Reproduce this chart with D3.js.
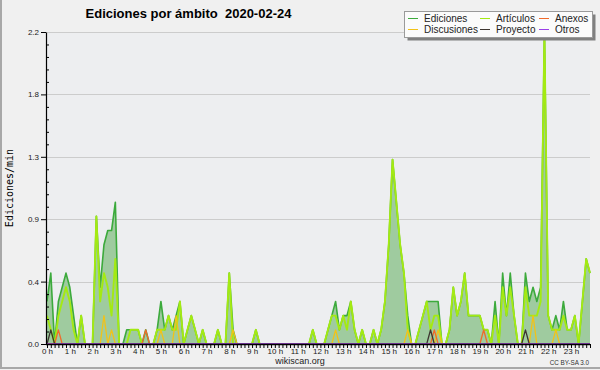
<!DOCTYPE html>
<html>
<head>
<meta charset="utf-8">
<script src="https://cdn.jsdelivr.net/npm/d3@7"></script>
<style>
body { margin: 0; background: #f0f0f0; }
svg { display: block; font-family: "Liberation Sans", Arial, sans-serif; }
</style>
</head>
<body>
<script>
// edits per minute, one value per 10 minutes (144 per day)
var ediciones = [
  0.3,0.5,0,0.3,0.4,0.5,
  0.4,0.2,0,0.2,0,0,
  0,0.9,0.4,0.7,0.8,0.8,
  1.0,0,0,0.1,0.1,0.1,
  0.1,0,0.1,0,0,0.1,
  0.3,0.1,0.2,0.1,0.2,0.3,
  0,0.1,0.2,0.1,0,0.1,
  0,0,0,0.1,0,0,
  0.5,0.1,0,0,0,0,
  0,0.1,0,0,0,0,
  0,0,0,0,0,0,
  0,0,0,0,0.1,0,
  0,0,0.1,0.2,0.3,0.1,
  0.2,0.2,0.3,0.1,0,0.1,
  0,0,0.1,0,0.1,0.3,
  0.7,1.3,1.0,0.7,0.5,0.2,
  0,0,0.1,0.2,0.3,0.3,
  0.3,0.3,0,0,0.1,0.4,
  0.2,0.3,0.5,0.2,0.2,0.2,
  0.2,0.1,0.1,0,0.3,0,
  0.5,0.2,0.5,0.2,0,0,
  0.5,0.3,0.4,0.3,0.4,2.2,
  0.2,0.1,0.2,0.1,0.3,0.1,
  0.1,0.2,0,0.3,0.6,0.5
];
var articulos = [
  0.2,0.1,0,0.2,0.3,0.4,
  0.3,0.1,0,0.2,0,0,
  0,0.9,0.3,0.5,0.4,0.2,
  0.6,0,0,0,0.1,0.1,
  0.1,0,0,0,0,0.1,
  0.1,0.1,0.2,0.1,0.1,0.3,
  0,0.1,0.2,0.1,0,0.1,
  0,0,0,0.1,0,0,
  0.5,0,0,0,0,0,
  0,0.1,0,0,0,0,
  0,0,0,0,0,0,
  0,0,0,0,0.1,0,
  0,0,0.1,0.2,0.2,0.1,
  0.2,0.1,0.3,0.1,0,0.1,
  0,0,0.1,0,0.1,0.3,
  0.7,1.3,1.0,0.7,0.5,0.1,
  0,0,0.1,0.2,0.3,0.1,
  0.2,0.2,0,0,0.1,0.4,
  0.2,0.3,0.5,0.2,0.2,0.2,
  0.2,0.1,0.1,0,0.2,0,
  0.4,0.2,0.4,0.2,0,0,
  0.4,0.2,0.2,0.2,0.3,2.2,
  0.2,0.1,0.1,0.1,0.2,0.1,
  0.1,0.2,0,0.3,0.6,0.5
];
var discusiones = [
  0,0,0,0,0,0,
  0,0,0,0,0,0,
  0,0,0,0.2,0,0.1,
  0,0,0,0,0,0,
  0,0,0,0,0,0,
  0.1,0,0,0,0.2,0,
  0,0,0,0,0,0,
  0,0,0,0,0,0,
  0,0.1,0,0,0,0,
  0,0,0,0,0,0,
  0,0,0,0,0,0,
  0,0,0,0,0,0,
  0,0,0,0,0.1,0,
  0,0,0,0,0,0,
  0,0,0,0,0,0,
  0,0,0,0,0,0.1,
  0,0,0,0,0,0,
  0,0.1,0,0,0,0,
  0,0,0,0,0,0,
  0,0,0,0,0,0,
  0,0,0,0,0,0,
  0,0,0.2,0,0,0,
  0,0,0.1,0,0,0,
  0,0,0,0,0,0
];
var anexos = [
  0,0,0,0.1,0,0,
  0,0,0,0,0,0,
  0,0,0,0,0,0,
  0,0,0,0,0,0,
  0,0,0.1,0,0,0,
  0,0,0,0,0,0,
  0,0,0,0,0,0,
  0,0,0,0,0,0,
  0,0,0,0,0,0,
  0,0,0,0,0,0,
  0,0,0,0,0,0,
  0,0,0,0,0,0,
  0,0,0,0,0,0,
  0,0,0,0,0,0,
  0,0,0,0,0,0,
  0,0,0,0,0,0,
  0,0,0,0,0,0,
  0.1,0,0,0,0,0,
  0,0,0,0,0,0,
  0,0.1,0,0,0,0,
  0,0,0,0,0,0,
  0,0,0,0,0,0,
  0,0,0,0,0,0,
  0,0,0,0,0,0
];
var proyecto = [
  0,0.1,0,0,0,0,
  0,0,0,0,0,0,
  0,0,0,0,0,0,
  0,0,0,0,0,0,
  0,0,0,0,0,0,
  0,0,0,0,0,0,
  0,0,0,0,0,0,
  0,0,0,0,0,0,
  0,0,0,0,0,0,
  0,0,0,0,0,0,
  0,0,0,0,0,0,
  0,0,0,0,0,0,
  0,0,0,0,0,0,
  0,0,0,0,0,0,
  0,0,0,0,0,0,
  0,0,0,0,0,0,
  0,0,0,0,0,0.1,
  0,0,0,0,0,0,
  0,0,0,0,0,0,
  0,0,0,0,0,0,
  0,0,0,0,0,0,
  0.1,0,0,0,0,0,
  0,0,0,0,0,0,
  0,0,0,0,0,0
];
var otros = [
  0,0,0,0,0,0, 0,0,0,0,0,0, 0,0,0,0,0,0, 0,0,0,0,0,0,
  0,0,0,0,0,0, 0,0,0,0,0,0, 0,0,0,0,0,0, 0,0,0,0,0,0,
  0,0,0,0,0,0, 0,0,0,0,0,0, 0,0,0,0,0,0, 0,0,0,0,0,0,
  0,0,0,0,0,0, 0,0,0,0,0,0, 0,0,0,0,0,0, 0,0,0,0,0,0,
  0,0,0,0,0,0, 0,0,0,0,0,0, 0,0,0,0,0,0, 0,0,0,0,0,0,
  0,0,0,0,0,0, 0,0,0,0,0,0, 0,0,0,0,0,0, 0,0,0,0,0,0
];

var hourLabels = ["0 h","1 h","2 h","3 h","4 h","5 h","6 h","7 h","8 h","9 h","10 h","11 h",
  "12 h","13 h","14 h","15 h","16 h","17 h","18 h","19 h","20 h","21 h","22 h","23 h"];
var yTicks = [0, 0.44, 0.88, 1.32, 1.76, 2.2];
var yTickLabels = ["0.0", "0.4", "0.9", "1.3", "1.8", "2.2"];

var legendNames = ["Ediciones", "Artículos", "Anexos", "Discusiones", "Proyecto", "Otros"];
var colors = {
  "Ediciones": "#3caa3c",
  "Artículos": "#a4ea12",
  "Anexos": "#f06a2a",
  "Discusiones": "#f2c218",
  "Proyecto": "#3d3530",
  "Otros": "#9a40e8"
};

var svgWidth = 600;
var svgHeight = 370;

var svg = d3.select("body")
  .append("svg")
  .attr("width", svgWidth)
  .attr("height", svgHeight);

svg.append("rect")
  .attr("width", svgWidth)
  .attr("height", svgHeight)
  .attr("fill", "#f0f0f0");

// frame on the left and bottom
svg.append("path")
  .attr("d", "M1,0V368H600")
  .attr("fill", "none")
  .attr("stroke", "#a8a8a8")
  .attr("stroke-width", 2);

var x = d3.scaleLinear().domain([0, 143]).range([47, 590]);
var y = d3.scaleLinear().domain([0, 2.2]).range([344, 32]);

// plot background and grid
svg.append("rect")
  .attr("x", 46).attr("y", 32)
  .attr("width", 544).attr("height", 312)
  .attr("fill", "#edeef0");

svg.append("g")
  .selectAll("line")
  .data(yTicks.slice(1))
  .enter()
  .append("line")
  .attr("x1", 46).attr("x2", 590)
  .attr("y1", d => Math.round(y(d)) + 0.5)
  .attr("y2", d => Math.round(y(d)) + 0.5)
  .attr("stroke", "#cccccc");

// total area
var area = d3.area()
  .x((d, i) => x(i))
  .y0(y(0))
  .y1(d => y(d));

svg.append("path")
  .datum(ediciones)
  .attr("d", area)
  .attr("fill", "#9fcb9f");

var line = d3.line()
  .x((d, i) => x(i))
  .y(d => y(d));

var seriesList = [
  { name: "Ediciones", values: ediciones, w: 1.6 },
  { name: "Artículos", values: articulos, w: 1.9 },
  { name: "Discusiones", values: discusiones, w: 1.3 },
  { name: "Anexos", values: anexos, w: 1.3 },
  { name: "Proyecto", values: proyecto, w: 1.3 },
  { name: "Otros", values: otros, w: 1.3 }
];

svg.append("g")
  .selectAll("path")
  .data(seriesList)
  .enter()
  .append("path")
  .attr("d", d => line(d.values))
  .attr("fill", "none")
  .attr("stroke", d => colors[d.name])
  .attr("stroke-width", d => d.w)
  .attr("stroke-linejoin", "round");

// x axis: a tick for every 10 minutes, labels each hour
var xMinor = svg.append("g")
  .attr("transform", "translate(0,344)")
  .call(d3.axisBottom(x).tickValues(d3.range(144)).tickSize(4).tickFormat(""));
xMinor.select(".domain").remove();
xMinor.selectAll("line").attr("stroke", "#000");

var xLabels = svg.append("g")
  .attr("transform", "translate(0,344)")
  .call(d3.axisBottom(x)
    .tickValues(hourLabels.map((d, i) => i * 6))
    .tickSize(0)
    .tickPadding(4)
    .tickFormat((d, i) => hourLabels[i]));
xLabels.select(".domain").remove();
xLabels.selectAll("text")
  .attr("font-family", "Liberation Sans, Arial, sans-serif")
  .attr("font-size", 8)
  .attr("fill", "#222");

svg.append("line")
  .attr("x1", 46).attr("x2", 590)
  .attr("y1", 344.5).attr("y2", 344.5)
  .attr("stroke", "#000")
  .attr("stroke-width", 1.5);

// y axis
var minorTicks = [];
yTicks.slice(0, -1).forEach(function(t, i) {
  for (var k = 1; k < 5; k++) {
    minorTicks.push(t + (yTicks[i + 1] - t) * k / 5);
  }
});

var yMinor = svg.append("g")
  .attr("transform", "translate(46,0)")
  .call(d3.axisRight(y).tickValues(minorTicks).tickSize(3).tickFormat(""));
yMinor.select(".domain").remove();
yMinor.selectAll("line").attr("stroke", "#000");

var yAxis = svg.append("g")
  .attr("transform", "translate(46,0)")
  .call(d3.axisLeft(y)
    .tickValues(yTicks)
    .tickSize(5)
    .tickSizeOuter(0)
    .tickPadding(2)
    .tickFormat((d, i) => yTickLabels[i]));
yAxis.select(".domain").attr("stroke", "#000").attr("stroke-width", 1.2);
yAxis.selectAll("line").attr("stroke", "#000");
yAxis.selectAll("text")
  .attr("font-family", "Liberation Sans, Arial, sans-serif")
  .attr("font-size", 8)
  .attr("fill", "#222");

// titles
svg.append("text")
  .attr("x", 188.5)
  .attr("y", 18)
  .attr("text-anchor", "middle")
  .attr("font-size", 13)
  .attr("font-weight", "bold")
  .attr("fill", "#000")
  .style("white-space", "pre")
  .text("Ediciones por ámbito  2020-02-24");

svg.append("text")
  .attr("transform", "translate(13,188) rotate(-90)")
  .attr("text-anchor", "middle")
  .attr("font-family", "DejaVu Sans Mono, monospace")
  .attr("font-size", 10)
  .attr("fill", "#000")
  .text("Ediciones/min");

svg.append("text")
  .attr("x", 300)
  .attr("y", 364)
  .attr("text-anchor", "middle")
  .attr("font-size", 9)
  .attr("fill", "#222")
  .text("wikiscan.org");

svg.append("text")
  .attr("x", 589)
  .attr("y", 365)
  .attr("text-anchor", "end")
  .attr("font-size", 6.3)
  .attr("fill", "#333")
  .text("CC BY-SA 3.0");

// legend
var legend = svg.append("g");
legend.append("rect")
  .attr("x", 407.5).attr("y", 14.5)
  .attr("width", 188).attr("height", 26)
  .attr("fill", "#808080");
legend.append("rect")
  .attr("x", 404.5).attr("y", 11.5)
  .attr("width", 188).attr("height", 26)
  .attr("fill", "#fbfbfb")
  .attr("stroke", "#9a9a9a");

var colX = [408, 480, 539];
var rowY = [18.5, 29.5];

var items = legend.selectAll("g.item")
  .data(legendNames)
  .enter()
  .append("g")
  .attr("class", "item")
  .attr("transform", (d, i) => `translate(${colX[i % 3]},${rowY[Math.floor(i / 3)]})`);

items.append("line")
  .attr("x1", 0).attr("x2", 10)
  .attr("y1", 0).attr("y2", 0)
  .attr("stroke", d => colors[d])
  .attr("stroke-width", 1);

items.append("text")
  .attr("x", 16)
  .attr("y", 3.5)
  .attr("font-size", 10)
  .attr("fill", "#222")
  .text(d => d);
</script>
</body>
</html>
